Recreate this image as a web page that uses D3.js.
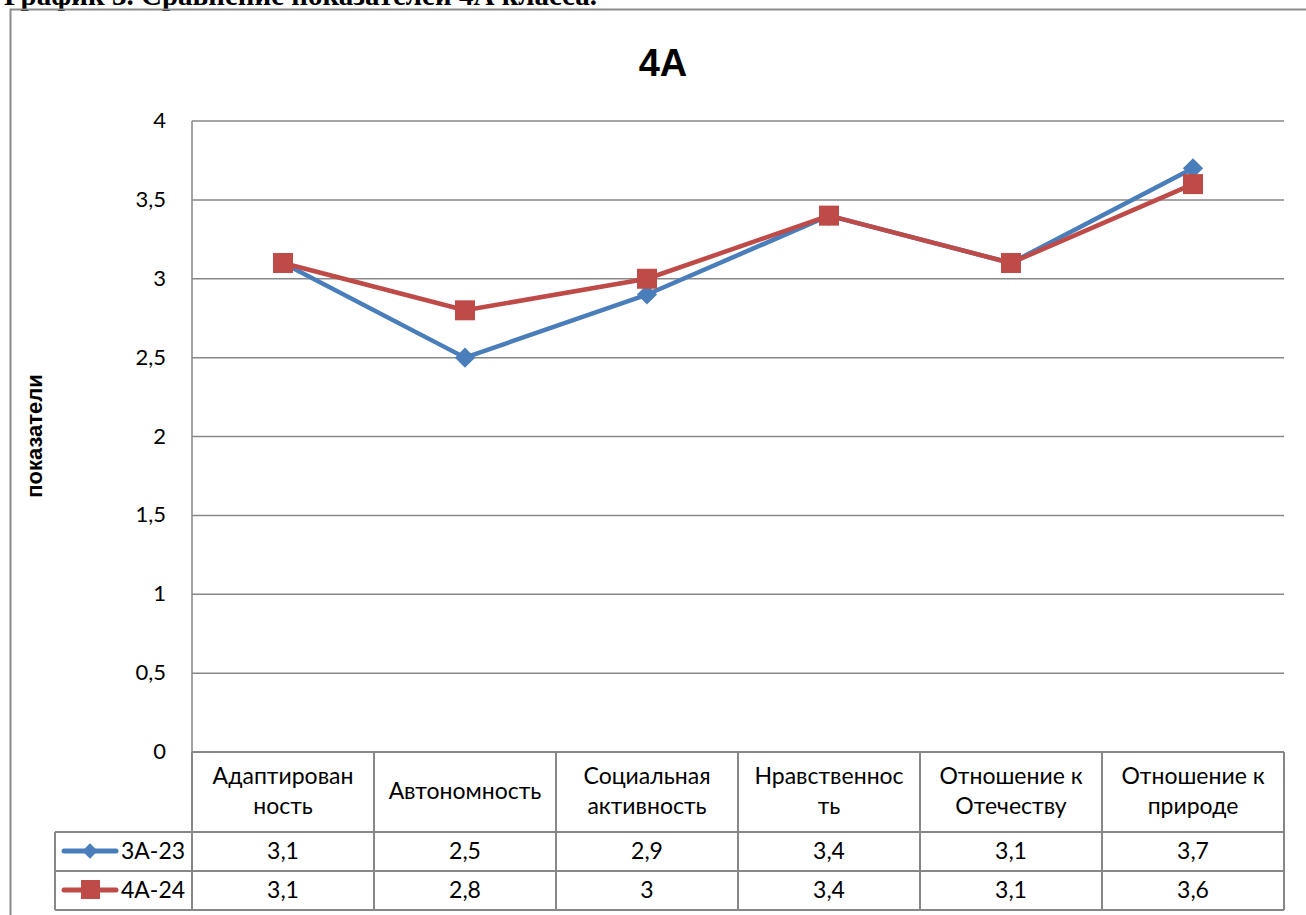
<!DOCTYPE html>
<html><head><meta charset="utf-8">
<script src="https://cdn.jsdelivr.net/npm/d3@7"></script>
<style>body{margin:0;background:#fff;}svg{display:block;}</style>
</head><body>
<script>
const categories = [["Адаптирован","ность"],["Автономность"],["Социальная","активность"],["Нравственнос","ть"],["Отношение к","Отечеству"],["Отношение к","природе"]];
const seriesNames = ["3А-23","4А-24"];
const series1 = [3.1,2.5,2.9,3.4,3.1,3.7];
const series2 = [3.1,2.8,3.0,3.4,3.1,3.6];
const yTicks = [0,0.5,1,1.5,2,2.5,3,3.5,4];
const colors = ["#4A7EBB","#BE4B48"];

const W=1306,H=915;
const svg=d3.select("body").append("svg").attr("width",W).attr("height",H);
const fmt=v=>String(v).replace(".",",");
const ff="Lato, Carlito, sans-serif";

// caption (cut at top, as in the source)
svg.append("text").attr("x",4).attr("y",5).attr("font-family","Liberation Serif").attr("font-weight","bold").attr("font-size",29)
 .text("График 3. Сравнение показателей 4А класса.");

// outer border
svg.append("rect").attr("x",10.5).attr("y",9.5).attr("width",1320).attr("height",940).attr("fill","none").attr("stroke","#8c8c8c").attr("stroke-width",2);

const L=192,R=1284,T=121,B=752;
const x=d3.scaleBand().domain(d3.range(categories.length)).range([L,R]);
const y=d3.scaleLinear().domain([0,4]).range([B,T]);
const g="#878787";

svg.append("g").selectAll("line").data(yTicks).join("line")
 .attr("x1",L).attr("x2",R).attr("y1",d=>y(d)).attr("y2",d=>y(d)).attr("stroke",g).attr("stroke-width",1.5);
svg.append("line").attr("x1",L).attr("x2",L).attr("y1",T).attr("y2",B).attr("stroke",g).attr("stroke-width",1.5);

svg.append("g").selectAll("text").data(yTicks).join("text")
 .attr("x",166).attr("y",d=>y(d)+7).attr("text-anchor","end").attr("font-family",ff)
 .attr("font-size",22).attr("fill","#000").text(fmt);

svg.append("text").attr("transform",`translate(42,436) rotate(-90)`).attr("text-anchor","middle")
 .attr("font-family","Liberation Sans").attr("font-weight","bold").attr("font-size",22).text("показатели");

svg.append("text").attr("x",663).attr("y",76).attr("text-anchor","middle").attr("font-family","Liberation Sans")
 .attr("font-weight","bold").attr("font-size",38).text("4А");

const tl=svg.append("g").attr("stroke",g).attr("stroke-width",2);
tl.append("line").attr("x1",L).attr("x2",R).attr("y1",B).attr("y2",B);
[832,871,910].forEach(yy=>tl.append("line").attr("x1",55).attr("x2",R).attr("y1",yy).attr("y2",yy));
d3.range(categories.length+1).forEach(i=>{
  const xx=L+i*x.bandwidth();
  tl.append("line").attr("x1",xx).attr("x2",xx).attr("y1",B).attr("y2",910);
});
tl.append("line").attr("x1",55).attr("x2",55).attr("y1",832).attr("y2",910);

const fs=23;
categories.forEach((c,i)=>{
  const cx=x(i)+x.bandwidth()/2;
  const t=svg.append("text").attr("text-anchor","middle").attr("font-family",ff).attr("font-size",fs);
  if(c.length===1){t.append("tspan").attr("x",cx).attr("y",799).text(c[0]);}
  else{t.append("tspan").attr("x",cx).attr("y",784).text(c[0]);t.append("tspan").attr("x",cx).attr("y",814).text(c[1]);}
});
[series1,series2].forEach((s,k)=>{
  const yy=[859,898][k];
  svg.append("g").selectAll("text").data(s).join("text").attr("x",(d,i)=>x(i)+x.bandwidth()/2).attr("y",yy)
   .attr("text-anchor","middle").attr("font-family",ff).attr("font-size",fs).text(fmt);
  svg.append("text").attr("x",121).attr("y",yy).attr("font-family",ff).attr("font-size",fs).text(seriesNames[k]);
  const ly=[851,890][k];
  svg.append("line").attr("x1",64).attr("x2",116).attr("y1",ly).attr("y2",ly).attr("stroke",colors[k]).attr("stroke-width",5).attr("stroke-linecap","round");
  if(k===0) svg.append("path").attr("d",d3.symbol(d3.symbolDiamond2,150)()).attr("transform",`translate(90,${ly})`).attr("fill",colors[k]);
  else svg.append("rect").attr("x",81).attr("y",ly-10).attr("width",19).attr("height",19).attr("fill",colors[k]);
});

const line=d3.line().x((d,i)=>x(i)+x.bandwidth()/2).y(d=>y(d));
[series1,series2].forEach((s,k)=>{
  svg.append("path").datum(s).attr("d",line).attr("fill","none").attr("stroke",colors[k]).attr("stroke-width",4.5).attr("stroke-linejoin","round");
});
svg.append("g").selectAll("path").data(series1).join("path")
 .attr("d",d3.symbol(d3.symbolDiamond2,260)()).attr("transform",(d,i)=>`translate(${x(i)+x.bandwidth()/2},${y(d)})`).attr("fill",colors[0]);
svg.append("g").selectAll("rect").data(series2).join("rect")
 .attr("x",(d,i)=>x(i)+x.bandwidth()/2-10).attr("y",d=>y(d)-10).attr("width",20).attr("height",20).attr("fill",colors[1]);
</script>
</body></html>
